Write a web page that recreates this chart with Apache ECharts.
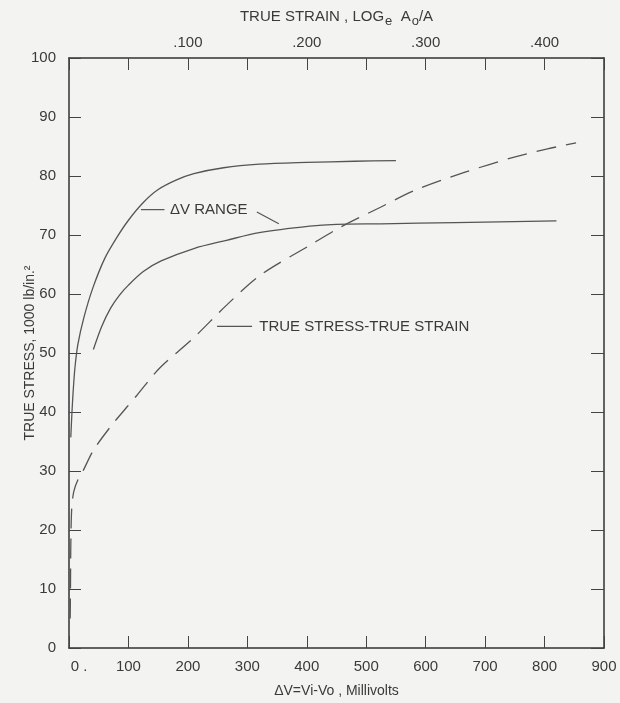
<!DOCTYPE html>
<html>
<head>
<meta charset="utf-8">
<script src="https://cdn.jsdelivr.net/npm/echarts@6/dist/echarts.min.js"></script>
<style>
html,body{margin:0;padding:0;background:#f3f3f1;}
#chart{width:620px;height:703px;}
</style>
</head>
<body>
<div id="chart"></div>
<script>
// ---- data (ΔV in millivolts, stress in 1000 lb/in²) ----
var xTicks = [0, 100, 200, 300, 400, 500, 600, 700, 800, 900];
var yTicks = [0, 10, 20, 30, 40, 50, 60, 70, 80, 90, 100];
// top (true strain) labels, placed at the ΔV position they coincide with
var strainTickAt = [200, 400, 600, 800];
var strainTickLabels = ['.100', '.200', '.300', '.400'];

var upperRange = [[3,35.7],[5,40],[7,43.5],[10,47.5],[15,51.5],[25,56],[40,61],[60,66],[80,69.5],[100,72.5],[125,75.5],[150,77.7],[180,79.3],[210,80.4],[260,81.4],[320,82],[400,82.3],[480,82.5],[550,82.6]];
var lowerRange = [[41,50.6],[55,54.5],[70,57.6],[85,59.8],[100,61.5],[125,63.8],[155,65.6],[210,67.7],[265,69.1],[320,70.4],[405,71.5],[450,71.8],[525,71.9],[650,72.1],[820,72.4]];
var trueStressStrain = [[2,5],[2.5,10],[3,17],[4.5,23.5],[8,26.5],[15,28.5],[24,30.1],[41,33.5],[69,37.4],[97,40.8],[114,42.8],[153,47.5],[210,52.6],[266,58.2],[322,63.2],[406,68.3],[460,71.5],[524,74.7],[580,77.5],[665,80.6],[749,83.2],[805,84.6],[853,85.6]];

// annotation anchors in data units
var rangeLeader1 = [[121,74.3],[160.6,74.3]];
var rangeLabelPos = [170,74.3];
var rangeLeader2 = [[316,73.9],[353,71.9]];
var tsLeader = [[249,54.5],[308,54.5]];
var tsLabelPos = [320,54.5];

var FONT = '"Liberation Sans", Arial, sans-serif';
var INK = '#3a3a3a';
var LINE = '#555';

var chart = echarts.init(document.getElementById('chart'), null, {renderer:'canvas'});

var option = {
  backgroundColor: '#f3f3f1',
  animation: false,
  grid: { left: 69, right: 16, top: 58, bottom: 51, show: false },
  xAxis: [{
    type: 'value', position: 'bottom', min: 0, max: 900, interval: 100,
    name: 'ΔV=Vi-Vo , Millivolts', nameLocation: 'middle', nameGap: 36,
    nameTextStyle: { color: INK, fontFamily: FONT, fontSize: 14 },
    axisLine: { show: true, onZero: false, lineStyle: { color: '#333', width: 1.5 } },
    axisTick: { show: true, inside: true, length: 12, lineStyle: { color: '#444', width: 1 } },
    splitLine: { show: false },
    axisLabel: {
      color: INK, fontFamily: FONT, fontSize: 15, margin: 11,
      formatter: function (v) { return v === 0 ? '{z|0 .}' : String(v); },
      rich: { z: { color: INK, fontFamily: FONT, fontSize: 15, padding: [0,0,0,20] } }
    }
  }, {
    type: 'value', position: 'top', min: 0, max: 900, interval: 100,
    name: '{n|TRUE STRAIN , LOG}{s|e}{n|  A}{s|o}{n|/A}', nameLocation: 'middle', nameGap: 30,
    nameTextStyle: {
      color: INK, fontFamily: FONT, fontSize: 15,
      rich: {
        n: { color: INK, fontFamily: FONT, fontSize: 15 },
        s: { color: INK, fontFamily: FONT, fontSize: 13, padding: [10,0,0,1] }
      }
    },
    axisLine: { show: true, onZero: false, lineStyle: { color: '#333', width: 1.5 } },
    axisTick: { show: true, inside: true, length: 12, lineStyle: { color: '#444', width: 1 } },
    splitLine: { show: false },
    axisLabel: {
      color: INK, fontFamily: FONT, fontSize: 15, margin: 8,
      formatter: function (v) {
        var i = strainTickAt.indexOf(Math.round(v));
        return i >= 0 ? strainTickLabels[i] : '';
      }
    }
  }],
  yAxis: [{
    type: 'value', position: 'left', min: 0, max: 100, interval: 10,
    name: 'TRUE STRESS, 1000 lb/in.²', nameLocation: 'middle', nameGap: 32, nameRotate: 90,
    nameMoveOverlap: false,
    nameTextStyle: { color: INK, fontFamily: FONT, fontSize: 14 },
    axisLine: { show: true, onZero: false, lineStyle: { color: '#333', width: 1.5 } },
    axisTick: { show: true, inside: true, length: 12, lineStyle: { color: '#444', width: 1 } },
    splitLine: { show: false },
    axisLabel: { color: INK, fontFamily: FONT, fontSize: 15, margin: 13 }
  }, {
    type: 'value', position: 'right', min: 0, max: 100, interval: 10,
    axisLine: { show: true, onZero: false, lineStyle: { color: '#333', width: 1.5 } },
    axisTick: { show: true, inside: true, length: 13, lineStyle: { color: '#444', width: 1 } },
    splitLine: { show: false },
    axisLabel: { show: false }
  }],
  series: [{
    name: 'ΔV range (upper)', type: 'line', data: upperRange, smooth: 0.3,
    showSymbol: false, lineStyle: { color: LINE, width: 1.3 }
  }, {
    name: 'ΔV range (lower)', type: 'line', data: lowerRange, smooth: 0.3,
    showSymbol: false, lineStyle: { color: LINE, width: 1.3 }
  }, {
    name: 'True stress-true strain', type: 'line', data: trueStressStrain, smooth: 0.3,
    showSymbol: false, lineStyle: { color: LINE, width: 1.3, type: [20, 10] }
  }]
};
chart.setOption(option);

function px(p) { return chart.convertToPixel({ xAxisIndex: 0, yAxisIndex: 0 }, p); }
function seg(a) {
  var p1 = px(a[0]), p2 = px(a[1]);
  return { type: 'line', shape: { x1: p1[0], y1: p1[1], x2: p2[0], y2: p2[1] }, style: { stroke: LINE, lineWidth: 1.2 } };
}
function label(pos, text) {
  var p = px(pos);
  return { type: 'text', x: p[0], y: p[1], style: { text: text, fill: INK, font: '15px ' + FONT, textAlign: 'left', textVerticalAlign: 'middle' } };
}
chart.setOption({
  graphic: [
    seg(rangeLeader1), label(rangeLabelPos, 'ΔV RANGE'), seg(rangeLeader2),
    seg(tsLeader), label(tsLabelPos, 'TRUE STRESS-TRUE STRAIN')
  ]
});
</script>
</body>
</html>
